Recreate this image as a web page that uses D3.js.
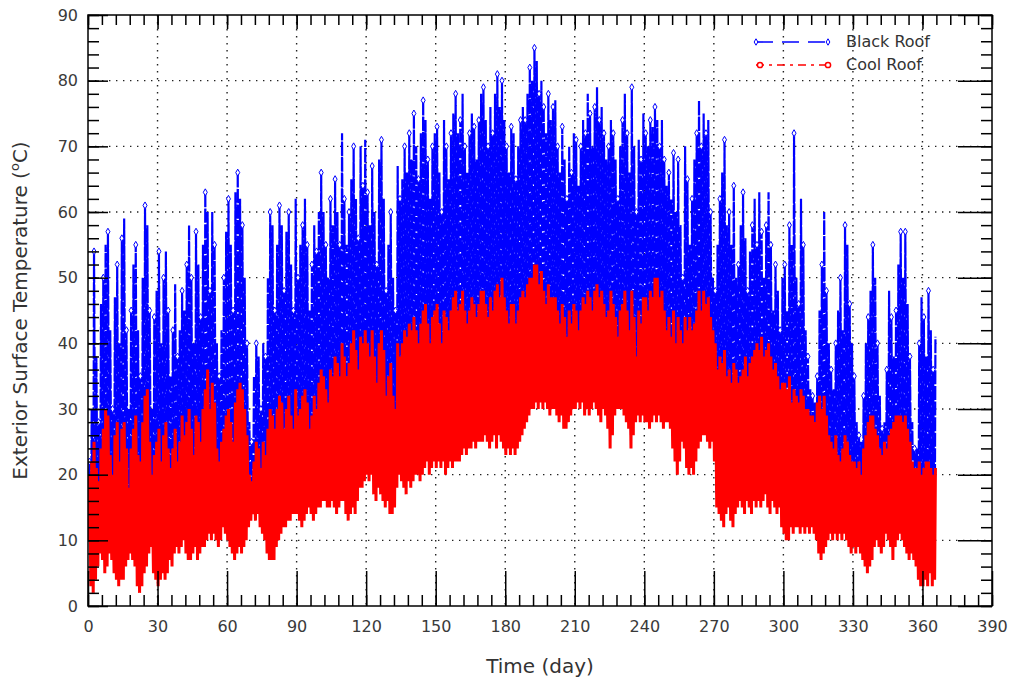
<!DOCTYPE html>
<html><head><meta charset="utf-8">
<script src="https://cdn.jsdelivr.net/npm/d3@7"></script>
<style>body{margin:0;background:#fff}svg{display:block}</style>
</head><body><svg id="c" width="1011" height="684"></svg>
<script>
// Daily maximum / minimum exterior surface temperatures (°C), day 0..365
const blackMax=[
22,30,54,38,28,46,50,55,57,42, 30,47,52,40,56,59,42,30,45,52, 55,42,35,50,61,58,45,30,44,48,
54,40,50,54,45,35,42,49,38,42, 48,45,52,58,50,40,57,52,44,55, 63,60,48,60,55,40,35,42,50,57,
62,55,45,63,66,62,58,50,40,28, 25,35,40,38,30,40,38,50,60,58, 45,55,61,58,48,57,60,52,45,62,
50,55,58,62,55,45,52,58,54,60, 66,60,55,50,62,58,65,60,55,72, 62,55,60,65,70,62,56,70,64,71,
63,58,67,60,52,68,71,62,48,55, 60,50,45,67,62,65,70,66,72,68, 75,70,65,72,77,74,68,62,70,72,
73,66,60,74,70,65,72,75,78,72, 74,78,70,66,72,75,73,68,74,78, 79,74,70,76,72,78,81,76,80,74,
70,66,73,72,65,70,74,76,74,78, 82,80,85,83,78,80,76,72,78,74, 76,77,70,66,73,68,62,70,66,72,
71,64,70,74,72,78,75,70,76,79, 74,76,72,68,70,74,72,68,62,70, 74,78,72,66,79,70,60,71,68,75,
72,70,74,73,76,74,70,74,68,64, 66,62,69,60,68,58,50,70,65,55, 62,68,72,77,70,75,72,74,60,50,
48,55,62,66,71,58,60,55,64,50, 52,58,63,56,48,54,58,62,55,63, 57,50,58,63,55,45,52,48,42,50,
52,45,58,55,72,50,46,62,55,42, 38,33,32,31,35,45,52,60,48,40, 36,33,40,45,50,42,58,55,46,40,
35,28,26,25,32,40,44,48,55,50, 40,32,27,28,36,48,44,38,45,52, 57,50,57,46,38,28,24,24,40,47,
44,38,48,42,36,41];
const blackMin=[
12,5,4,6,8,10,9,7,8,10, 9,7,6,5,6,6,8,9,10,9, 8,5,4,5,7,8,10,11,7,6,
5,6,7,6,7,9,8,10,11,10, 11,12,10,9,9,10,11,9,10,11, 11,12,13,12,13,12,11,12,14,13,
12,11,10,9,10,11,10,11,12,14, 15,16,15,16,14,13,12,10,9,9, 9,11,12,13,14,14,15,15,16,16,
16,15,14,15,16,17,16,15,16,17, 17,18,18,17,17,18,17,16,17,18, 18,16,15,16,17,16,18,20,20,21,
22,21,22,19,18,20,19,18,17,18, 16,16,17,20,22,21,20,19,21,20, 21,22,22,21,22,23,24,22,23,24,
23,24,23,24,22,23,24,23,24,24, 24,25,26,25,26,26,27,26,27,27, 27,28,27,26,27,28,26,28,27,26,
25,26,25,26,25,26,27,28,29,30, 31,32,32,33,32,33,32,33,32,31, 32,32,31,30,31,29,29,30,31,32,
32,33,32,33,31,32,31,32,33,32, 31,30,32,31,29,26,28,31,32,32, 32,31,30,29,26,28,30,31,30,31,
30,30,29,30,31,30,31,30,29,30, 30,29,26,24,22,24,27,26,23,22, 23,22,24,26,27,28,28,27,26,27,
24,17,16,15,14,16,17,15,14,16, 17,18,17,16,18,17,16,18,17,18, 17,18,19,17,16,18,17,16,17,14,
13,12,12,14,13,14,14,13,14,13, 14,13,14,13,12,10,9,10,11,12, 13,12,13,12,13,12,13,12,11,10,
11,10,11,10,9,8,7,8,9,11, 12,11,10,11,13,12,11,9,11,12, 13,12,11,10,9,10,9,8,6,5,
5,6,5,7,5,6];
const coolMax=[
20,22,25,21,19,24,27,30,29,23, 20,26,28,22,27,28,24,18,24,27, 29,23,22,28,32,33,25,20,23,25,
27,22,26,28,24,21,24,27,22,25, 29,26,28,30,27,23,29,28,25,30, 33,36,30,34,31,24,22,25,27,29,
30,28,25,31,33,34,33,30,26,20, 19,22,25,24,21,25,23,27,30,29, 27,30,32,31,27,30,32,29,27,33,
29,30,32,33,31,27,29,32,30,34, 36,35,33,31,36,35,38,37,35,40, 38,35,37,40,42,39,36,41,40,42,
40,38,42,38,34,40,42,39,32,35, 37,32,30,40,38,40,42,41,43,42, 44,42,40,43,45,46,43,40,44,45,
46,43,40,45,44,42,45,47,48,45, 46,48,45,43,45,47,46,44,46,48, 48,46,44,47,45,48,49,47,50,47,
45,43,46,46,43,45,47,48,47,49, 50,50,52,52,49,51,48,46,49,47, 47,47,45,43,46,44,41,45,43,46,
45,42,45,47,46,48,47,45,48,49, 47,48,46,44,45,48,46,44,41,45, 46,48,45,42,48,44,38,45,43,47,
47,45,48,47,50,50,47,48,45,42, 44,41,45,40,44,42,40,44,42,44, 42,43,45,48,45,48,46,47,44,42,
40,36,38,37,39,35,36,34,37,36, 34,35,36,38,35,37,38,39,40,39, 41,38,39,40,38,36,37,35,33,34,
34,33,35,31,33,32,31,33,32,30, 30,29,29,28,31,32,30,32,29,26, 25,24,26,23,22,24,26,25,23,22,
22,21,22,20,24,26,28,29,29,27, 26,24,23,25,24,26,27,28,29,29, 29,28,29,27,25,22,21,21,22,20,
21,22,22,21,20,21];
const coolMin=[
10,3,2,4,6,8,7,5,6,8, 7,5,4,3,4,4,6,7,8,7, 6,3,2,3,5,6,8,9,5,4,
3,4,5,4,5,7,6,8,9,8, 9,10,8,7,7,8,9,7,8,9, 9,10,11,10,11,10,9,10,12,11,
10,9,8,7,8,9,8,9,10,12, 13,14,13,14,12,11,10,8,7,7, 7,9,10,11,12,12,13,13,14,14,
14,13,12,13,14,15,14,13,14,15, 15,16,16,15,15,16,15,14,15,16, 16,14,13,14,15,14,16,18,18,19,
20,19,20,17,16,18,17,16,15,16, 14,14,15,18,20,19,18,17,19,18, 19,20,20,19,20,21,22,20,21,22,
21,22,21,22,20,21,22,21,22,22, 22,23,24,23,24,24,25,24,25,25, 25,26,25,24,25,26,24,26,25,24,
23,24,23,24,23,24,25,26,27,28, 29,30,30,31,30,31,30,31,30,29, 30,30,29,28,29,27,27,28,29,30,
30,31,30,31,29,30,29,30,31,30, 29,28,30,29,27,24,26,29,30,30, 30,29,28,27,24,26,28,29,28,29,
28,28,27,28,29,28,29,28,27,28, 28,27,24,22,20,22,25,24,21,20, 21,20,22,24,25,26,26,25,24,25,
22,15,14,13,12,14,15,13,12,14, 15,16,15,14,16,15,14,16,15,16, 15,16,17,15,14,16,15,14,15,12,
11,10,10,12,11,12,12,11,12,11, 12,11,12,11,10,8,7,8,9,10, 11,10,11,10,11,10,11,10,9,8,
9,8,9,8,7,6,5,6,7,9, 10,9,8,9,11,10,9,7,9,10, 11,10,9,8,7,8,7,6,4,3,
3,4,3,5,3,4];
const xTickLabels=[0,30,60,90,120,150,180,210,240,270,300,330,360,390];
const yTickLabels=[0,10,20,30,40,50,60,70,80,90];
const seriesNames=["Black Roof","Cool Roof"];

const svg=d3.select('#c');
const X0=88,X1=992,Y0=606,Y1=15;
const x=d3.scaleLinear().domain([0,390]).range([X0,X1]);
const y=d3.scaleLinear().domain([0,90]).range([Y0,Y1]);
const FONT='"DejaVu Sans", Verdana, sans-serif';

// grid
const grid=svg.append('g');
grid.selectAll('.gx').data(xTickLabels.slice(1,-1)).join('line')
  .attr('x1',d=>x(d)).attr('x2',d=>x(d)).attr('y1',Y1).attr('y2',Y0)
  .attr('stroke','#222').attr('stroke-width',1.4).attr('stroke-dasharray','1.4,5.6');
grid.selectAll('.gy').data(yTickLabels.slice(1,-1)).join('line')
  .attr('y1',d=>y(d)).attr('y2',d=>y(d)).attr('x1',X0).attr('x2',X1)
  .attr('stroke','#222').attr('stroke-width',1.4).attr('stroke-dasharray','1.4,5.6');

// data: daily minimum (early morning) and maximum (early afternoon)
function pts(mn,mx){const p=[];mn.forEach((v,i)=>{p.push([i+0.25,v]);p.push([i+0.6,mx[i]]);});return p;}
const line=d3.line().x(d=>x(d[0])).y(d=>y(d[1]));
svg.append('clipPath').attr('id','pc').append('rect').attr('x',X0).attr('y',Y1).attr('width',X1-X0).attr('height',Y0-Y1);
const plot=svg.append('g').attr('clip-path','url(#pc)');
plot.append('path').attr('d',line(pts(blackMin,blackMax)))
  .attr('fill','none').attr('stroke','#0000ff').attr('stroke-width',2.2).attr('stroke-dasharray','14,1.6');
plot.selectAll('.bm').data(blackMax.map((v,i)=>[i+0.6,v]).filter((d,i)=>i%2===0)).join('path')
  .attr('d',d3.symbol(d3.symbolDiamond,14)).attr('transform',d=>`translate(${x(d[0])},${y(d[1])})`)
  .attr('fill','#fff').attr('stroke','#0000ff').attr('stroke-width',1);
plot.append('path').attr('d',line(pts(coolMin,coolMax)))
  .attr('fill','none').attr('stroke','#ff0000').attr('stroke-width',3).attr('stroke-linejoin','miter');

// axes
function styleAxis(g,labels){
  g.select('.domain').remove();
  g.selectAll('line').attr('stroke','#000').attr('stroke-width',1.5);
  g.selectAll('text').attr('font-family',FONT).attr('font-size',16).attr('fill','#3a3a3a');
  if(!labels) g.selectAll('text').remove();
}
svg.append('g').attr('transform',`translate(0,${Y0})`)
  .call(d3.axisBottom(x).tickValues(d3.range(0,391,6)).tickSize(-11).tickFormat('')).call(g=>styleAxis(g,false));
svg.append('g').attr('transform',`translate(0,${Y0})`)
  .call(d3.axisBottom(x).tickValues(xTickLabels).tickSize(-35).tickPadding(15).tickSizeOuter(0)).call(g=>styleAxis(g,true));
svg.append('g').attr('transform',`translate(0,${Y1})`)
  .call(d3.axisTop(x).tickValues(d3.range(0,391,6)).tickSize(-10).tickFormat('')).call(g=>styleAxis(g,false));
svg.append('g').attr('transform',`translate(0,${Y1})`)
  .call(d3.axisTop(x).tickValues(xTickLabels).tickSize(-14).tickFormat('')).call(g=>styleAxis(g,false));
svg.append('g').attr('transform',`translate(${X0},0)`)
  .call(d3.axisLeft(y).tickValues(d3.range(0,91,2)).tickSize(-11).tickFormat('')).call(g=>styleAxis(g,false));
svg.append('g').attr('transform',`translate(${X0},0)`)
  .call(d3.axisLeft(y).tickValues(yTickLabels).tickSize(-20).tickPadding(10)).call(g=>styleAxis(g,true));
svg.append('g').attr('transform',`translate(${X1},0)`)
  .call(d3.axisRight(y).tickValues(d3.range(0,91,2)).tickSize(-11).tickFormat('')).call(g=>styleAxis(g,false));
svg.append('g').attr('transform',`translate(${X1},0)`)
  .call(d3.axisRight(y).tickValues(yTickLabels).tickSize(-34).tickFormat('')).call(g=>styleAxis(g,false));
svg.append('rect').attr('x',X0).attr('y',Y1).attr('width',X1-X0).attr('height',Y0-Y1)
  .attr('fill','none').attr('stroke','#000').attr('stroke-width',1.5);

// titles
svg.append('text').attr('x',(X0+X1)/2).attr('y',673).attr('text-anchor','middle')
  .attr('font-family',FONT).attr('font-size',20).attr('fill','#333').text('Time (day)');
const yt=svg.append('text').attr('transform',`translate(27,${(Y0+Y1)/2}) rotate(-90)`).attr('text-anchor','middle')
  .attr('font-family',FONT).attr('font-size',20).attr('fill','#333');
yt.append('tspan').text('Exterior Surface Temperature (');
yt.append('tspan').attr('font-size',13).attr('dy',-8).text('o');
yt.append('tspan').attr('dy',8).text('C)');

// legend
const lg=svg.append('g');
const rows=[{name:seriesNames[0],color:'#0000ff',y:42,dash:'17,9'},{name:seriesNames[1],color:'#ff0000',y:65,dash:'8,5,3,5'}];
rows.forEach(r=>{
  lg.append('line').attr('x1',756).attr('x2',828).attr('y1',r.y).attr('y2',r.y)
    .attr('stroke',r.color).attr('stroke-width',1.6).attr('stroke-dasharray',r.dash);
  lg.append('text').attr('x',846).attr('y',r.y+5).attr('font-family',FONT).attr('font-size',16)
    .attr('fill','#333').text(r.name);
});
lg.selectAll('.mk0').data([756,828]).join('path').attr('d',d3.symbol(d3.symbolDiamond,12))
  .attr('transform',d=>`translate(${d},42)`).attr('fill','#fff').attr('stroke','#0000ff');
lg.selectAll('.mk1').data([760,828]).join('circle').attr('cx',d=>d).attr('cy',65).attr('r',2.6)
  .attr('fill','#fff').attr('stroke','#ff0000').attr('stroke-width',1.5);
</script></body></html>
